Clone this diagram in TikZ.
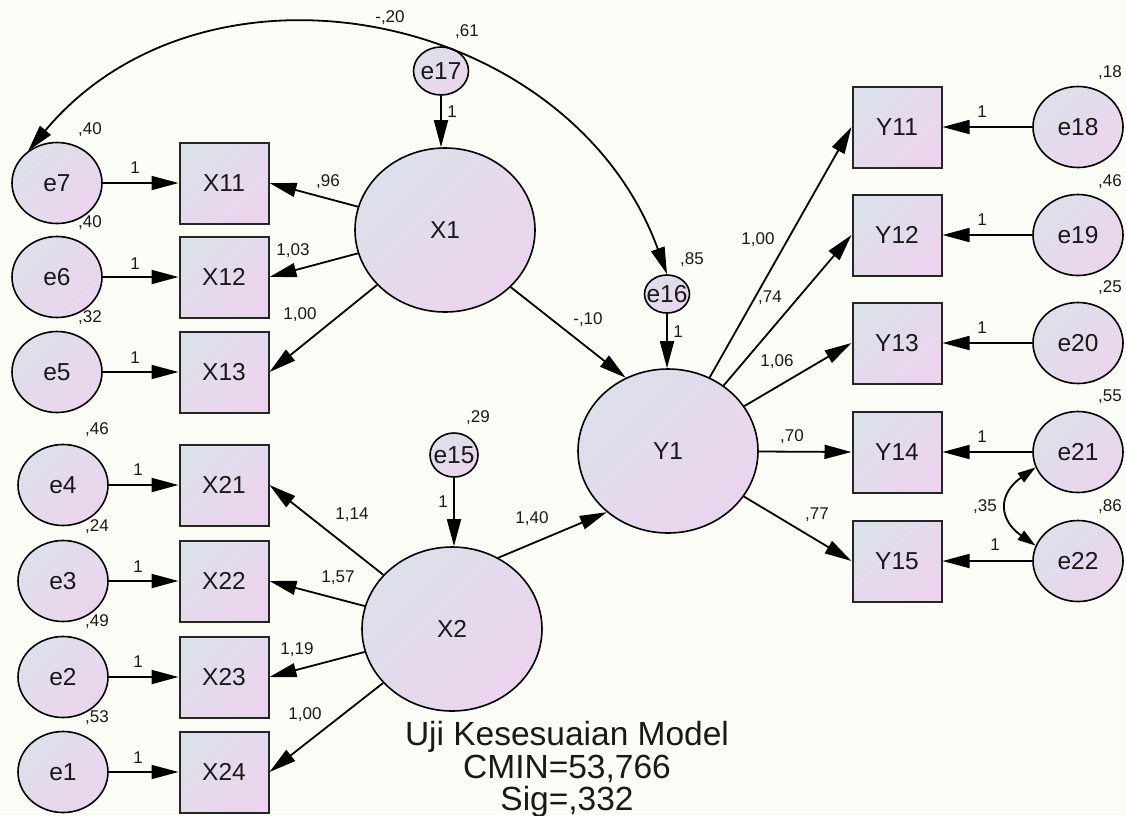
\documentclass[tikz,border=0pt]{standalone}
\usepackage{fontspec}
\setmainfont{Liberation Sans}
\usetikzlibrary{shapes.geometric,arrows.meta}
\definecolor{bg}{RGB}{252,252,247}
\definecolor{fa}{RGB}{220,224,234}
\definecolor{fb}{RGB}{236,212,238}
\definecolor{ink}{RGB}{25,25,25}
\begin{document}
\begin{tikzpicture}[x=1pt,y=1pt,
  shp/.style={draw=black, line width=1.6pt, top color=fa, bottom color=fb, shading angle=45,
              inner sep=0pt, text=ink, font=\fontsize{24.5}{26}\selectfont},
  lat/.style={shp, ellipse, minimum width=180pt, minimum height=164pt},
  err/.style={shp, ellipse, minimum width=90pt, minimum height=81pt},
  obs/.style={shp, rectangle, minimum width=89pt, minimum height=81pt, line width=2pt, draw=black!85},
  lbl/.style={font=\fontsize{17}{18}\selectfont, text=ink, inner sep=0pt},
  ttl/.style={font=\fontsize{33.5}{35}\selectfont, text=ink, inner sep=0pt, anchor=base},
  arr/.style={line width=1.8pt, -{Triangle[length=27pt,width=14pt]}},
  cov/.style={line width=1.8pt, {Triangle[length=27pt,width=14pt]}-{Triangle[length=27pt,width=14pt]}},
  covs/.style={line width=1.8pt, {Triangle[length=18pt,width=11pt]}-{Triangle[length=18pt,width=11pt]}},
]
\fill[bg] (0,0) rectangle (1126,-815);
\useasboundingbox (0,0) rectangle (1126,-815);

% error terms left
\node[err] (e7) at (57,-183) {e7};
\node[err] (e6) at (57,-277) {e6};
\node[err] (e5) at (57,-372) {e5};
\node[err] (e4) at (63,-485) {e4};
\node[err] (e3) at (63,-581) {e3};
\node[err] (e2) at (63,-677) {e2};
\node[err] (e1) at (63,-772) {e1};
% observed left
\node[obs] (X11) at (224,-183) {X11};
\node[obs] (X12) at (224,-277) {X12};
\node[obs] (X13) at (224,-372) {X13};
\node[obs] (X21) at (224,-485) {X21};
\node[obs] (X22) at (224,-581) {X22};
\node[obs] (X23) at (224,-677) {X23};
\node[obs] (X24) at (224,-772) {X24};
% latents
\node[lat] (X1) at (445,-230) {X1};
\node[lat] (X2) at (452,-629) {X2};
\node[lat] (Y1) at (668,-451) {Y1};
% small error terms
\node[shp, ellipse, minimum width=55pt, minimum height=48pt] (e17) at (441,-71) {\makebox[0pt]{e17}};
\node[shp, ellipse, minimum width=45pt, minimum height=38pt] (e16) at (667,-294) {\makebox[0pt]{e16}};
\node[shp, ellipse, minimum width=48pt, minimum height=44pt] (e15) at (454,-455) {\makebox[0pt]{e15}};
% observed right
\node[obs] (Y11) at (897,-127) {Y11};
\node[obs] (Y12) at (897,-235) {Y12};
\node[obs] (Y13) at (897,-343) {Y13};
\node[obs] (Y14) at (897,-452) {Y14};
\node[obs] (Y15) at (897,-561) {Y15};
% error terms right
\node[err] (e18) at (1078,-127) {e18};
\node[err] (e19) at (1078,-235) {e19};
\node[err] (e20) at (1078,-343) {e20};
\node[err] (e21) at (1078,-452) {e21};
\node[err] (e22) at (1078,-561) {e22};

% arrows left errors
\foreach \e/\x in {e7/X11,e6/X12,e5/X13,e4/X21,e3/X22,e2/X23,e1/X24}
  \draw[arr] (\e) -- (\x);
% loadings
\foreach \x in {X11,X12,X13} \draw[arr] (X1) -- (\x.east);
\foreach \x in {X21,X22,X23,X24} \draw[arr] (X2) -- (\x.east);
\foreach \y in {Y11,Y12,Y13,Y14,Y15} \draw[arr] (Y1) -- (\y.west);
\foreach \e/\y in {e18/Y11,e19/Y12,e20/Y13,e21/Y14,e22/Y15}
  \draw[arr] (\e) -- (\y);
% structural
\draw[arr] (e17) -- (e17 |- X1.north);
\draw[arr] (e16) -- (e16 |- Y1.north);
\draw[arr] (e15) -- (e15 |- X2.north);
\draw[arr] (X1.319) -- (Y1.120);
\draw[arr] (X2.57) -- (Y1.225);
% covariances
\draw[cov] (e7.132) to[out=50, in=110, looseness=1.1] (e16.north);
\draw[covs] (e21.200) to[out=215, in=145, looseness=1.5] (e22.160);

% labels
\node[lbl] (v7) at (90,-130) {,40};
\node[lbl] (v6) at (90,-223) {,40};
\node[lbl] (v5) at (90,-318) {,32};
\node[lbl] (v4) at (97,-430) {,46};
\node[lbl] (v3) at (97,-527) {,24};
\node[lbl] (v2) at (97,-622) {,49};
\node[lbl] (v1) at (97,-718) {,53};
\node[lbl] (w7) at (135,-168) {1};
\node[lbl] (w6) at (135,-264) {1};
\node[lbl] (w5) at (135,-358) {1};
\node[lbl] (w4) at (138,-470) {1};
\node[lbl] (w3) at (138,-567) {1};
\node[lbl] (w2) at (138,-662) {1};
\node[lbl] (w1) at (138,-758) {1};
\node[lbl] (l11) at (328,-182) {,96};
\node[lbl] (l12) at (293,-251) {1,03};
\node[lbl] (l13) at (300,-315) {1,00};
\node[lbl] (l21) at (352,-515) {1,14};
\node[lbl] (l22) at (338,-578) {1,57};
\node[lbl] (l23) at (297,-650) {1,19};
\node[lbl] (l24) at (305,-715) {1,00};
\node[lbl] (v17) at (467,-32) {,61};
\node[lbl] (w17) at (452,-112) {1};
\node[lbl] (c1) at (390,-18) {-,20};
\node[lbl] (b1) at (588,-320) {-,10};
\node[lbl] (v16) at (692,-260) {,85};
\node[lbl] (w16) at (678,-332) {1};
\node[lbl] (v15) at (478,-418) {,29};
\node[lbl] (w15) at (443,-502) {1};
\node[lbl] (b2) at (532,-519) {1,40};
\node[lbl] (m1) at (758,-240) {1,00};
\node[lbl] (m2) at (770,-298) {,74};
\node[lbl] (m3) at (777,-362) {1,06};
\node[lbl] (m4) at (792,-437) {,70};
\node[lbl] (m5) at (817,-515) {,77};
\node[lbl] (v18) at (1110,-73) {,18};
\node[lbl] (v19) at (1110,-182) {,46};
\node[lbl] (v20) at (1110,-288) {,25};
\node[lbl] (v21) at (1110,-397) {,55};
\node[lbl] (v22) at (1110,-507) {,86};
\node[lbl] (c2) at (985,-507) {,35};
\node[lbl] (w18) at (982,-112) {1};
\node[lbl] (w19) at (982,-220) {1};
\node[lbl] (w20) at (982,-328) {1};
\node[lbl] (w21) at (982,-437) {1};
\node[lbl] (w22) at (995,-545) {1};

% title
\node[ttl] (t1) at (567,-745) {Uji Kesesuaian Model};
\node[ttl] (t2) at (567,-778) {CMIN=53,766};
\node[ttl] (t3) at (567,-810) {Sig=,332};
\end{tikzpicture}
\end{document}
